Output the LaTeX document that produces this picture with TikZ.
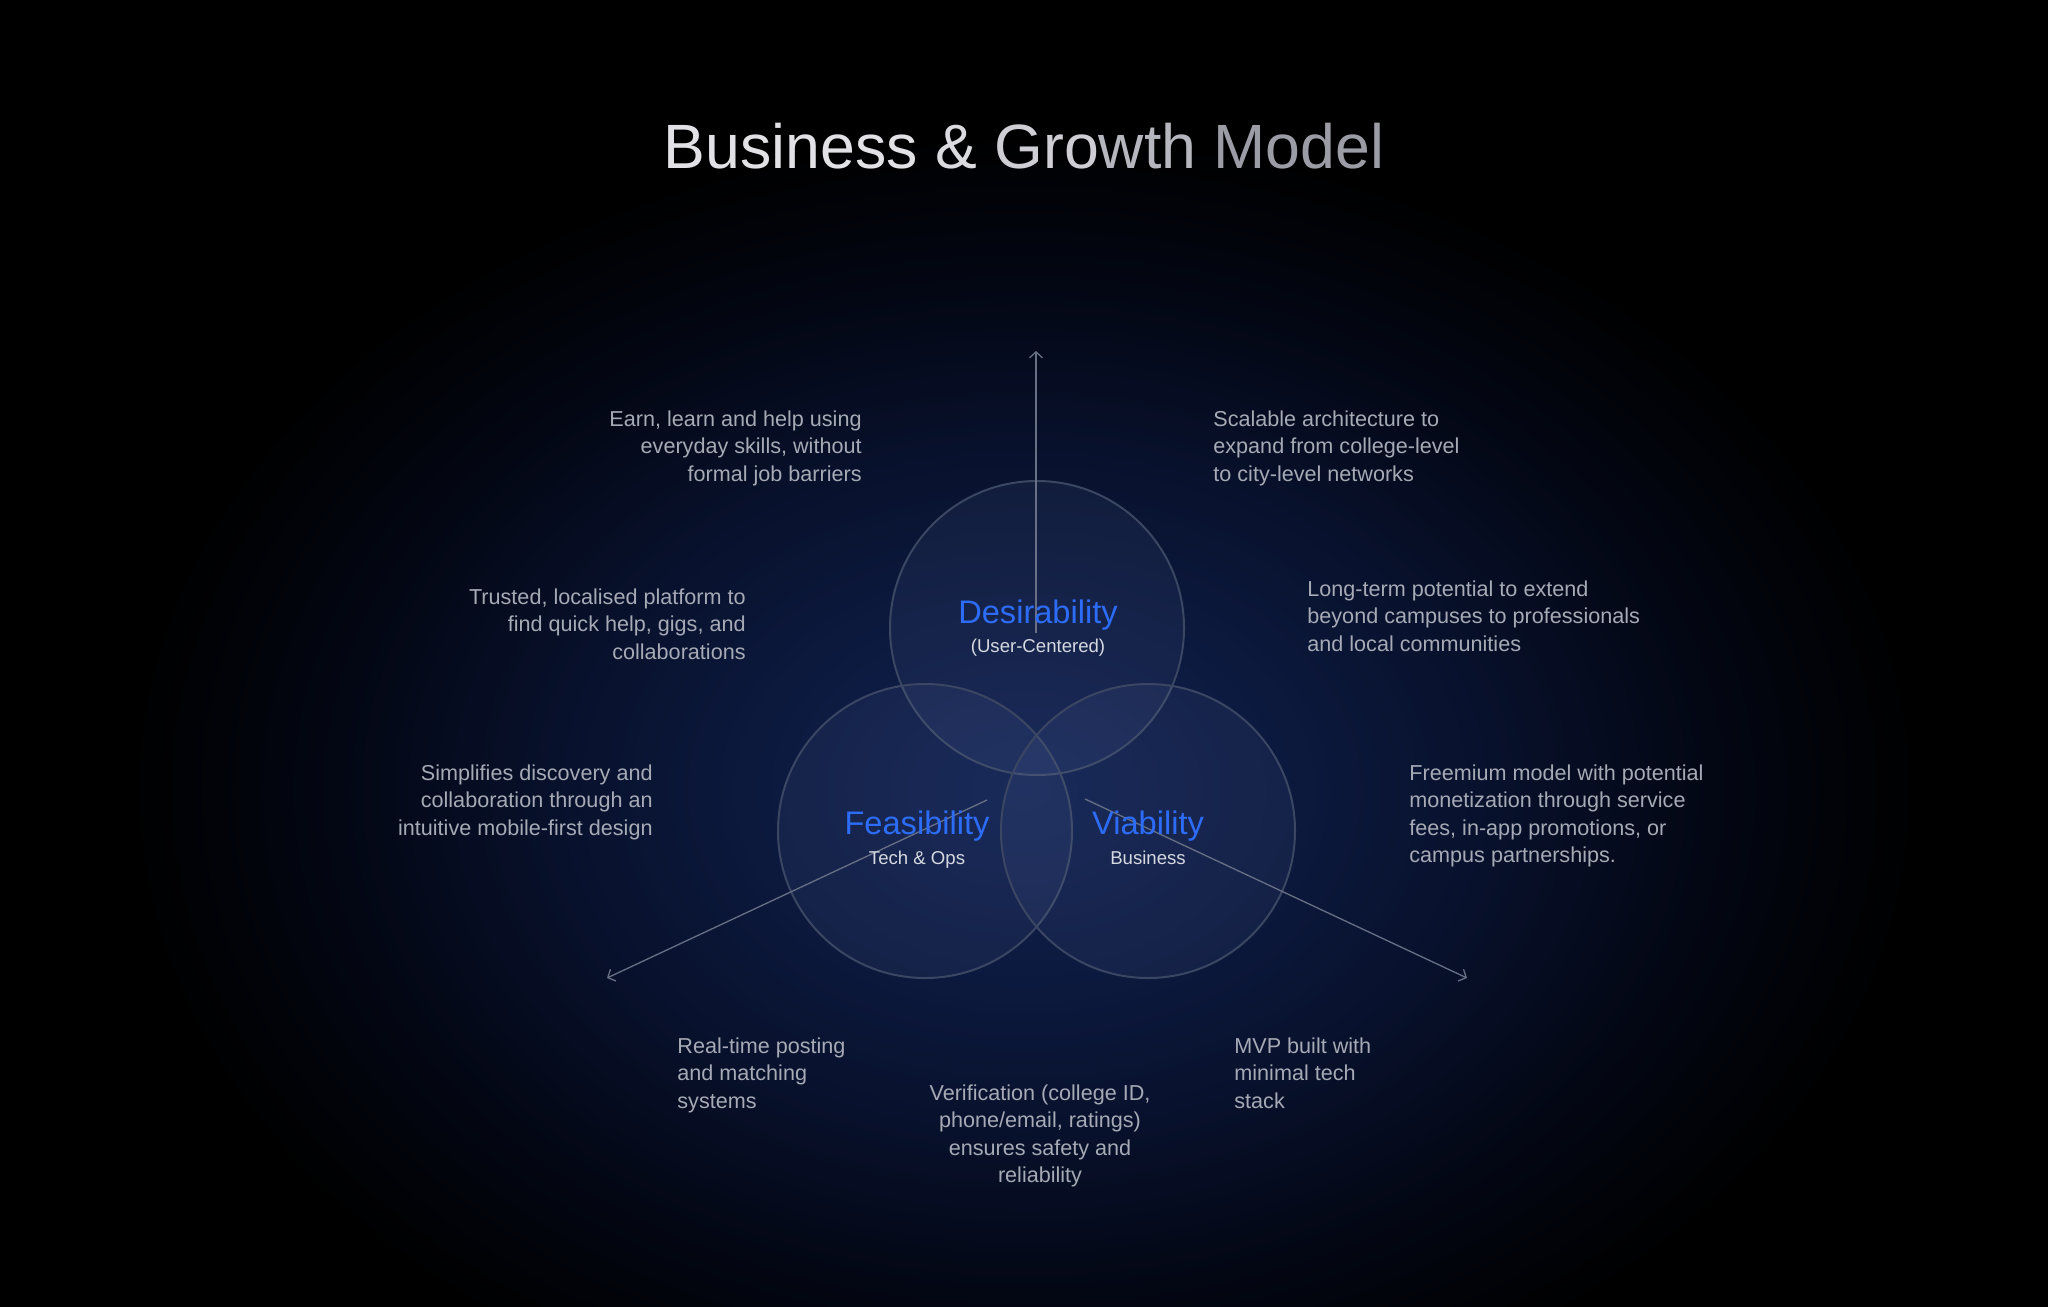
\documentclass[tikz,border=0pt]{standalone}
\usepackage{fontspec}
\setmainfont{Liberation Sans}
\usetikzlibrary{arrows.meta}
\definecolor{bodytxt}{RGB}{166,170,181}
\definecolor{subtxt}{RGB}{214,217,224}
\definecolor{vblue}{RGB}{44,108,247}
\definecolor{ring}{RGB}{58,70,98}
\definecolor{cfill}{RGB}{130,150,205}
\definecolor{lnk}{RGB}{104,112,134}
\definecolor{tA}{RGB}{226,226,230}
\definecolor{tB}{RGB}{218,218,223}
\definecolor{tC}{RGB}{206,206,212}
\definecolor{tD}{RGB}{182,182,190}
\definecolor{tE}{RGB}{156,156,166}
\definecolor{gA}{RGB}{17,33,80}
\definecolor{gB}{RGB}{13,27,66}
\definecolor{gC}{RGB}{8,17,44}
\definecolor{gD}{RGB}{3,7,20}
\definecolor{gE}{RGB}{0,0,0}
\pgfdeclareradialshading{glow}{\pgfpointorigin}{color(0bp)=(gA); color(6bp)=(gB); color(13bp)=(gC); color(19bp)=(gD); color(25bp)=(gE); color(50bp)=(gE)}
\newcommand{\tblk}[2]{\begin{tabular}[t]{@{}#1@{}}#2\end{tabular}}
\tikzset{
  venn/.style={circle, minimum size=147pt, inner sep=0pt, draw=ring, line width=1pt, fill=cfill, fill opacity=0.08},
  body/.style={font=\fontsize{10.8}{13.75}\selectfont, text=bodytxt, inner sep=0pt},
  bigblue/.style={font=\fontsize{16.3}{19}\selectfont, text=vblue, inner sep=0pt, anchor=base},
  sublbl/.style={font=\fontsize{9.3}{11}\selectfont, text=subtxt, inner sep=0pt, anchor=base},
  ttl/.style={font=\fontsize{31.3}{36}\selectfont, inner sep=0pt, anchor=base},
  lnkline/.style={draw=lnk, line width=0.65pt, -{Straight Barb[length=3pt,width=6.5pt]}}
}
\begin{document}
\begin{tikzpicture}[x=0.5pt,y=-0.5pt]
\useasboundingbox (0,0) rectangle (2048,1306);
\fill[black] (-20,-20) rectangle (2068,1326);
\begin{scope}
\clip (-20,-20) rectangle (2068,1326);
\shade[shading=glow] (1024,790) ellipse [x radius=450pt, y radius=330pt];
\end{scope}

% title
\node[ttl] (title) at (1024,168) {\color{tA}Business \color{tB}\& \color{tC}Gro\color{tD}wth \color{tE}Model};

% circles
\node[venn] (D) at (1037,628) {};
\node[venn] (F) at (925,831) {};
\node[venn] (V) at (1148,831) {};

% connectors
\coordinate (ds) at (1036,633);
\coordinate (de) at (1036,351);
\coordinate (fs) at (987,800);
\coordinate (fe) at (607,978);
\coordinate (vs) at (1085,799);
\coordinate (ve) at (1467,978);
\draw[lnkline] (ds) -- (de);
\draw[lnkline] (fs) -- (fe);
\draw[lnkline] (vs) -- (ve);

% circle labels
\node[bigblue] (Dl) at (1038,623) {Desirability};
\node[sublbl] (Ds) at (1038,652) {(User-Centered)};
\node[bigblue] (Fl) at (917,834) {Feasibility};
\node[sublbl] (Fs) at (917,864) {Tech \& Ops};
\node[bigblue] (Vl) at (1148,834) {Viability};
\node[sublbl] (Vs) at (1148,864) {Business};

% text blocks
\node[body, anchor=base east] (t1) at (862,426) {\tblk{r}{Earn, learn and help using\\everyday skills, without\\formal job barriers}};
\node[body, anchor=base west] (t2) at (1213,426) {\tblk{l}{Scalable architecture to\\expand from college-level\\to city-level networks}};
\node[body, anchor=base east] (t3) at (746,604) {\tblk{r}{Trusted, localised platform to\\find quick help, gigs, and\\collaborations}};
\node[body, anchor=base west] (t4) at (1307,596) {\tblk{l}{Long-term potential to extend\\beyond campuses to professionals\\and local communities}};
\node[body, anchor=base east] (t5) at (653,780) {\tblk{r}{Simplifies discovery and\\collaboration through an\\intuitive mobile-first design}};
\node[body, anchor=base west] (t6) at (1409,780) {\tblk{l}{Freemium model with potential\\monetization through service\\fees, in-app promotions, or\\campus partnerships.}};
\node[body, anchor=base west] (t7) at (677,1053) {\tblk{l}{Real-time posting\\and matching\\systems}};
\node[body, anchor=base] (t8) at (1040,1100) {\tblk{c}{Verification (college ID,\\phone/email, ratings)\\ensures safety and\\reliability}};
\node[body, anchor=base west] (t9) at (1234,1053) {\tblk{l}{MVP built with\\minimal tech\\stack}};
\end{tikzpicture}
\end{document}
